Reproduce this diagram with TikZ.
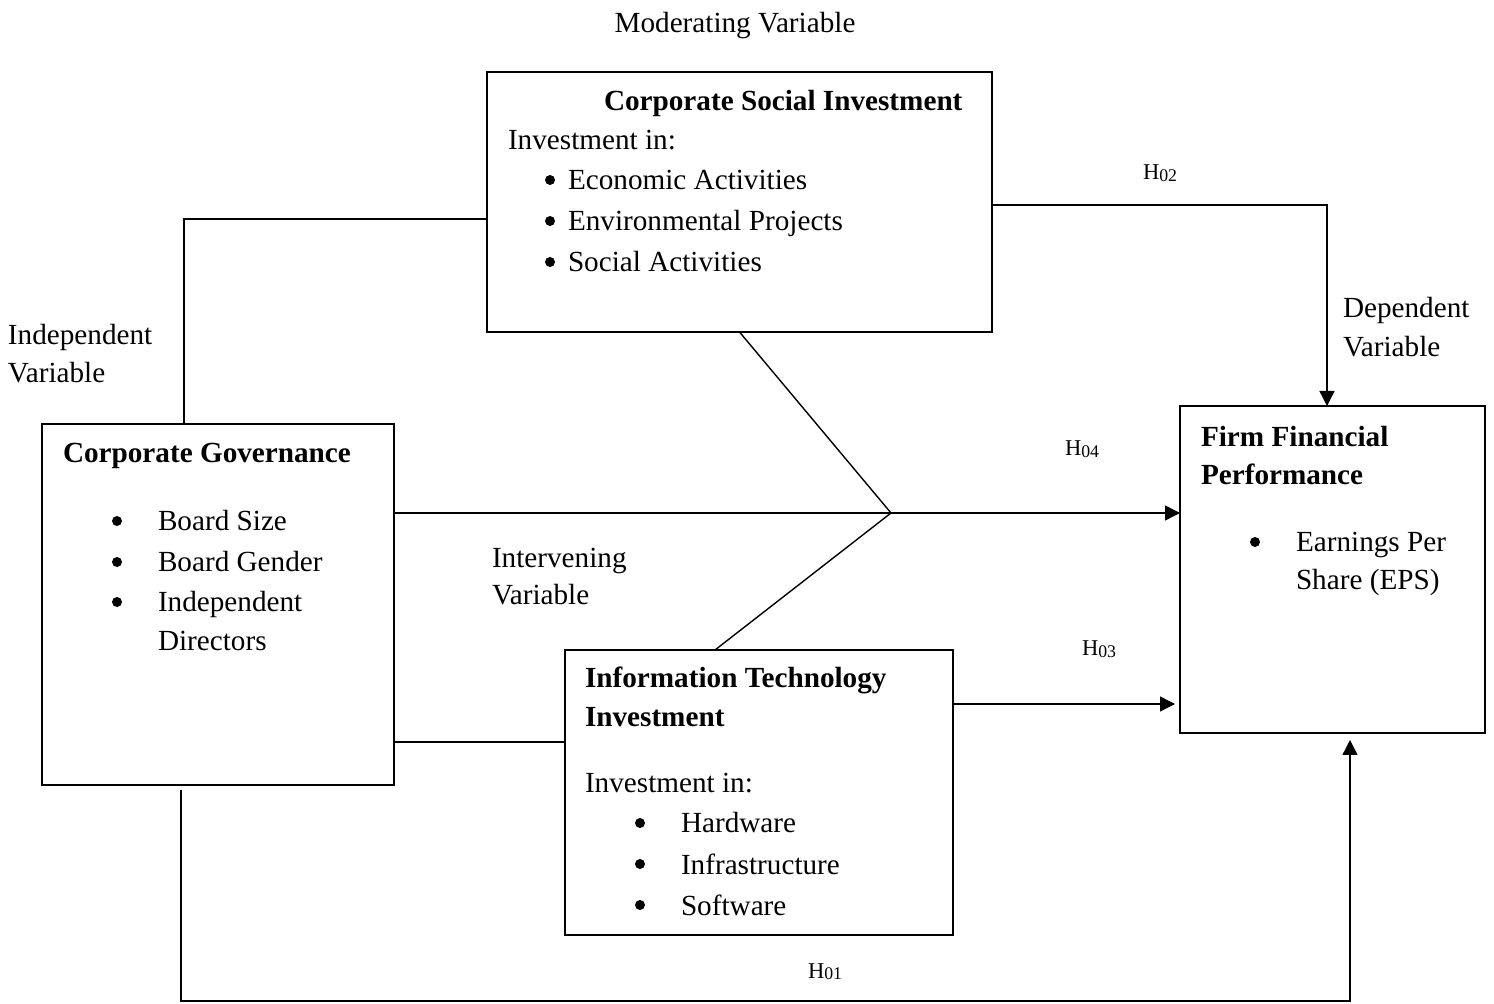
\documentclass[tikz,border=0pt]{standalone}
\usepackage{fontspec}
\setmainfont{Liberation Serif}
\usetikzlibrary{arrows.meta}

\newcommand\bodyfont{\fontsize{14.6pt}{17pt}\selectfont}
\newcommand\hypfont{\fontsize{11.3pt}{13pt}\selectfont}
\newcommand\hyp[1]{H\raisebox{-0.85pt}{\fontsize{8.9pt}{10pt}\selectfont #1}}

\tikzset{
  box/.style={draw, line width=0.8pt, inner sep=0pt, outer sep=0pt},
  txt/.style={anchor=base west, inner sep=0pt, outer sep=0pt, font=\bodyfont},
  ttl/.style={txt, font=\bodyfont\bfseries},
  ctxt/.style={anchor=base, inner sep=0pt, outer sep=0pt, font=\bodyfont},
  dot/.style={circle, fill, inner sep=0pt, outer sep=0pt, minimum size=5pt},
  hlabel/.style={anchor=base west, inner sep=0pt, outer sep=0pt, font=\hypfont},
  link/.style={line width=0.7pt},
  arr/.style={link, -{Triangle[length=7.5pt,width=7.5pt]}}
}

\begin{document}
\begin{tikzpicture}[x=0.5pt, y=-0.5pt]
\useasboundingbox (0,0) rectangle (1494,1004);

% ---------- boxes ----------
\node[box, minimum width=252.5pt, minimum height=130pt]   (csi) at (739.5,202) {};
\node[box, minimum width=176pt,   minimum height=180.5pt] (cg)  at (218,604.5) {};
\node[box, minimum width=194pt,   minimum height=142.5pt] (iti) at (759,792.5) {};
\node[box, minimum width=152.5pt, minimum height=163.5pt] (ffp) at (1332.5,569.5) {};

% ---------- free labels ----------
\node[ctxt] (mod) at (735,33) {Moderating Variable};
\node[txt] (ind1) at (8,345) {Independent};
\node[txt] (ind2) at (8,383) {Variable};
\node[txt] (dep1) at (1343,318) {Dependent};
\node[txt] (dep2) at (1343,357) {Variable};
\node[txt] (int1) at (492,568) {Intervening};
\node[txt] (int2) at (492,605) {Variable};

% ---------- Corporate Social Investment ----------
\node[ttl] (csit) at (604,111) {Corporate Social Investment};
\node[txt] (csii) at (508,150) {Investment in:};
\node[dot] (csib1) at (550,180) {};
\node[txt] (csi1)  at (568,190) {Economic Activities};
\node[dot] (csib2) at (550,221) {};
\node[txt] (csi2)  at (568,231) {Environmental Projects};
\node[dot] (csib3) at (550,262) {};
\node[txt] (csi3)  at (568,272) {Social Activities};

% ---------- Corporate Governance ----------
\node[ttl] (cgt) at (63,463) {Corporate Governance};
\node[dot] (cgb1) at (117,521) {};
\node[txt] (cg1)  at (158,531) {Board Size};
\node[dot] (cgb2) at (117,562) {};
\node[txt] (cg2)  at (158,572) {Board Gender};
\node[dot] (cgb3) at (117,602) {};
\node[txt] (cg3)  at (158,612) {Independent};
\node[txt] (cg4)  at (158,651) {Directors};

% ---------- Information Technology Investment ----------
\node[ttl] (itit1) at (585,688) {Information Technology};
\node[ttl] (itit2) at (585,727) {Investment};
\node[txt] (itii)  at (585,792) {Investment in:};
\node[dot] (itib1) at (640,823) {};
\node[txt] (iti1)  at (681,833) {Hardware};
\node[dot] (itib2) at (640,864) {};
\node[txt] (iti2)  at (681,874) {Infrastructure};
\node[dot] (itib3) at (640,905) {};
\node[txt] (iti3)  at (681,915) {Software};

% ---------- Firm Financial Performance ----------
\node[ttl] (ffpt1) at (1201,447) {Firm Financial};
\node[ttl] (ffpt2) at (1201,485) {Performance};
\node[dot] (ffpb1) at (1255,542) {};
\node[txt] (ffp1)  at (1296,552) {Earnings Per};
\node[txt] (ffp2)  at (1296,590) {Share (EPS)};

% ---------- hypothesis labels ----------
\node[hlabel] (h02) at (1143,180) {\hyp{02}};
\node[hlabel] (h04) at (1065,456) {\hyp{04}};
\node[hlabel] (h03) at (1082,656) {\hyp{03}};
\node[hlabel] (h01) at (808,978)  {\hyp{01}};

% ---------- bend points ----------
\coordinate (k1) at (184,219);
\coordinate (k2) at (1327,205);
\coordinate (j)  at (891,513);
\coordinate (k5) at (715,0);
\coordinate (k6) at (0,742);
\coordinate (k7) at (1175,704);
\coordinate (k8a) at (181,1001);
\coordinate (k8b) at (1350,1001);

% ---------- connectors ----------
\draw[link] (k1 |- cg.north) -- (k1) -- (k1 -| csi.west);
\draw[arr]  (k2 -| csi.east) -- (k2) -- (k2 |- ffp.north);
\draw[arr]  (j -| cg.east) -- (j -| ffp.west);
\draw[link] (csi.south) -- (j) -- (k5 |- iti.north);
\draw[link] (k6 -| cg.east) -- (k6 -| iti.west);
\draw[arr]  (k7 -| iti.east) -- (k7);
\draw[arr]  ([yshift=-2.5pt]k8a |- cg.south) -- (k8a) -- (k8b) -- ([yshift=-3.5pt]k8b |- ffp.south);

\end{tikzpicture}
\end{document}
